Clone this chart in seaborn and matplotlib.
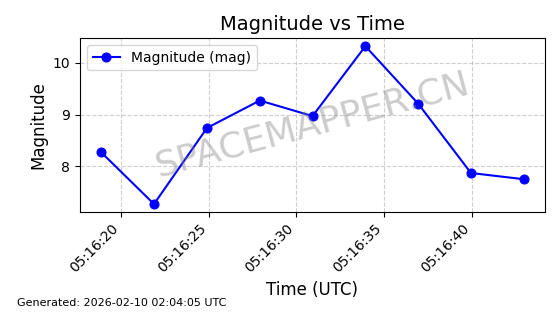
import matplotlib
matplotlib.use("Agg")
import matplotlib.pyplot as plt
import matplotlib.dates as mdates
import seaborn as sns
import pandas as pd

times = ["2026-02-10 05:16:18.87", "2026-02-10 05:16:21.88", "2026-02-10 05:16:24.90",
         "2026-02-10 05:16:27.91", "2026-02-10 05:16:30.92", "2026-02-10 05:16:33.93",
         "2026-02-10 05:16:36.94", "2026-02-10 05:16:39.95", "2026-02-10 05:16:42.96"]
magnitude = [8.27, 7.27, 8.74, 9.27, 8.97, 10.32, 9.21, 7.87, 7.75]

df = pd.DataFrame({"time": pd.to_datetime(times), "mag": magnitude})

fig, ax = plt.subplots(figsize=(5.6, 3.14), dpi=100)
sns.lineplot(data=df, x="time", y="mag", marker="o", color="blue", markersize=6.5,
             markeredgecolor="blue", linewidth=1.5, label="Magnitude (mag)", ax=ax)
ax.set_title("Magnitude vs Time", fontsize=14)
ax.set_xlabel("Time (UTC)", fontsize=12)
ax.set_ylabel("Magnitude", fontsize=12)
ax.xaxis.set_major_locator(mdates.SecondLocator(bysecond=range(0, 60, 5)))
ax.xaxis.set_major_formatter(mdates.DateFormatter("%H:%M:%S"))
plt.setp(ax.get_xticklabels(), rotation=45, ha="right")
ax.grid(True, linestyle="--", alpha=0.6)
ax.legend(loc="upper left")
ax.text(0.5, 0.5, "SPACEMAPPER.CN", transform=ax.transAxes, fontsize=26,
        color="gray", alpha=0.4, rotation=15, ha="center", va="center")
fig.text(0.03, 0.025, "Generated: 2026-02-10 02:04:05 UTC", fontsize=8)
fig.subplots_adjust(left=0.143, right=0.973, top=0.878, bottom=0.325)
fig.savefig("out.png", dpi=100)
